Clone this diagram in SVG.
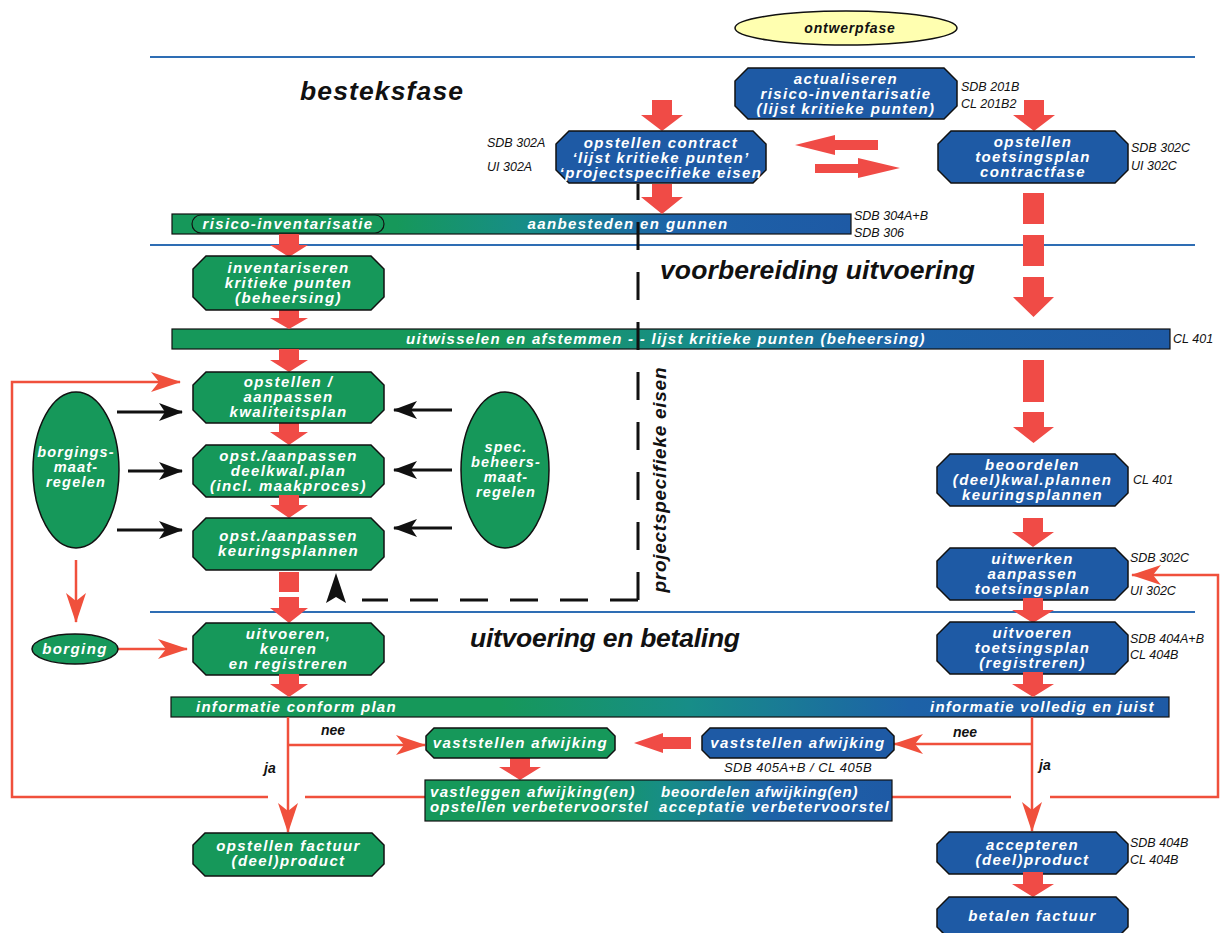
<svg xmlns="http://www.w3.org/2000/svg" width="1220" height="933" viewBox="0 0 1220 933">
<style>
.bg{fill:#ffffff}
.ph{stroke:#2e6db4;stroke-width:2;fill:none}
.gn{fill:#16985a;stroke:#111;stroke-width:1.5}
.bn{fill:#1e5aa5;stroke:#111;stroke-width:1.5}
.bar{fill:url(#gBar);stroke:#111;stroke-width:1.2}
.t{font-family:"Liberation Sans",Arial,sans-serif;font-size:15px;font-weight:bold;font-style:italic;fill:#fff;text-anchor:middle;letter-spacing:1.4px}
.te{font-size:14.5px;letter-spacing:1.2px}
.tl{text-anchor:start}
.lbl{font-family:"Liberation Sans",Arial,sans-serif;font-size:12.5px;font-style:italic;fill:#111}
.lbl2{font-size:13px;letter-spacing:0.5px;text-anchor:middle}
.ttl{font-family:"Liberation Sans",Arial,sans-serif;font-size:26.5px;font-weight:bold;font-style:italic;fill:#111}
.yn{font-family:"Liberation Sans",Arial,sans-serif;font-size:14px;font-weight:bold;font-style:italic;fill:#111}
.rot{font-size:19px;font-weight:900;text-anchor:middle}
.ba{fill:#f04b46}
.rl{stroke:#f0503c;stroke-width:2.5;fill:none}
.bl{stroke:#111;stroke-width:3;fill:none}
.dl{stroke:#111;stroke-width:3;fill:none;stroke-dasharray:28 22}
</style>
<defs>
<linearGradient id="gBar" x1="0" y1="0" x2="1" y2="0">
<stop offset="0" stop-color="#16985a"/>
<stop offset="0.33" stop-color="#16985a"/>
<stop offset="0.52" stop-color="#178d88"/>
<stop offset="0.74" stop-color="#1d62a8"/>
<stop offset="1" stop-color="#1e5aa5"/>
</linearGradient>
<marker id="rh" viewBox="0 0 30 20" markerWidth="30" markerHeight="20" refX="29" refY="10" orient="auto" markerUnits="userSpaceOnUse">
<path d="M0,0 L30,10 L0,20 L8,10 z" fill="#f0503c"/>
</marker>
<marker id="kh" viewBox="0 0 24 18" markerWidth="24" markerHeight="18" refX="23" refY="9" orient="auto" markerUnits="userSpaceOnUse">
<path d="M0,0 L24,9 L0,18 L6,9 z" fill="#111"/>
</marker>
</defs>
<rect class="bg" x="0" y="0" width="1220" height="933"/>

<g id="phases">
<line class="ph" x1="150" y1="57" x2="1195" y2="57"/>
<line class="ph" x1="150" y1="245" x2="1195" y2="245"/>
<line class="ph" x1="150" y1="612" x2="1195" y2="612"/>
<text class="ttl" x="300" y="100" textLength="163">besteksfase</text>
<text class="ttl" x="660" y="279" textLength="315">voorbereiding uitvoering</text>
<text class="ttl" x="470" y="647" textLength="270">uitvoering en betaling</text>
</g>

<g id="n-ontwerpfase">
<ellipse cx="846" cy="28" rx="111" ry="17" fill="#ffffb0" stroke="#111" stroke-width="1.5"/>
<text class="yn" x="850" y="33" text-anchor="middle" letter-spacing="0.8">ontwerpfase</text>
</g>

<g id="bars">
<rect class="bar" x="172" y="214" width="679" height="20"/>
<rect x="192" y="215" width="192" height="18" rx="9" fill="#16985a" stroke="#111" stroke-width="1.2"/>
<text class="t" x="288" y="229">risico-inventarisatie</text>
<text class="t" x="628" y="229">aanbesteden en gunnen</text>
<rect class="bar" x="172" y="329" width="998" height="20"/>
<text class="t" x="666" y="344" textLength="520">uitwisselen en afstemmen - - lijst kritieke punten (beheersing)</text>
<rect class="bar" x="171" y="697" width="998" height="20"/>
<text class="t tl" x="196" y="712" textLength="201">informatie conform plan</text>
<text class="t tl" x="930" y="712" textLength="225">informatie volledig en juist</text>
</g>

<g id="connectors">
<!-- dashed projectspecifieke eisen -->
<path class="dl" d="M638,600 V184"/>
<path class="dl" d="M638,600 H362"/>
<polygon points="336,573 346,603 336,597 326,603" fill="#111"/>
<text class="yn rot" x="0" y="0" transform="translate(666,480) rotate(-90)" textLength="225">projectspecifieke eisen</text>
<!-- block arrows top -->
<polygon class="ba" points="652,100 672,100 672,115 683,115 662,131 641,115 652,115"/>
<polygon class="ba" points="878,140 835,140 835,135 795,145 835,155 835,150 878,150"/>
<polygon class="ba" points="815,164 858,164 858,158 900,168 858,178 858,173 815,173"/>
<!-- right column -->
<rect class="ba" x="1023" y="193" width="21" height="31"/>
<rect class="ba" x="1023" y="235" width="21" height="31"/>
<polygon class="ba" points="1023,277 1044,277 1044,297 1054,297 1033.5,317 1013,297 1023,297"/>
<rect class="ba" x="1023" y="360" width="21" height="42"/>
<polygon class="ba" points="1023,412 1044,412 1044,427 1054,427 1033.5,443 1013,427 1023,427"/>
<polygon class="ba" points="1023,518 1043,518 1043,532 1054,532 1033,547 1012,532 1023,532"/>
<!-- left column -->
<polygon class="ba" points="279,234 299,234 299,245 308,245 289,257 270,245 279,245"/>
<polygon class="ba" points="279,308 299,308 299,318 308,318 289,329 270,318 279,318"/>
<polygon class="ba" points="279,349 299,349 299,360 308,360 289,372 270,360 279,360"/>
<polygon class="ba" points="279,422 299,422 299,432 308,432 289,445 270,432 279,432"/>
<rect class="ba" x="279" y="572" width="20" height="20"/>
<polygon class="ba" points="279,597 299,597 299,608 308,608 289,623 270,608 279,608"/>
<polygon class="ba" points="510,757 530,757 530,767 541,767 520,780 499,767 510,767"/>
<polygon class="ba" points="691,737 663,737 663,733 634,743 663,753 663,749 691,749"/>
<!-- thin red lines -->
<path class="rl" d="M425,797 H305"/>
<path class="rl" d="M268,797 H12 V382 H180" marker-end="url(#rh)"/>
<path class="rl" d="M892,797 H1011"/>
<path class="rl" d="M1050,797 H1218 V575 H1132" marker-end="url(#rh)"/>
<path class="rl" d="M76,560 V622" marker-end="url(#rh)"/>
<path class="rl" d="M117,649 H187" marker-end="url(#rh)"/>
<path class="rl" d="M288,717 V832" marker-end="url(#rh)"/>
<path class="rl" d="M288,745 H425" marker-end="url(#rh)"/>
<path class="rl" d="M1032,717 V831" marker-end="url(#rh)"/>
<path class="rl" d="M1032,744 H894" marker-end="url(#rh)"/>
<text class="yn" x="321" y="735">nee</text>
<text class="yn" x="264" y="773">ja</text>
<text class="yn" x="953" y="737">nee</text>
<text class="yn" x="1039" y="770">ja</text>
<!-- black arrows -->
<path class="bl" d="M117,412 H182" marker-end="url(#kh)"/>
<path class="bl" d="M128,471 H182" marker-end="url(#kh)"/>
<path class="bl" d="M117,530 H182" marker-end="url(#kh)"/>
<path class="bl" d="M452,410 H394" marker-end="url(#kh)"/>
<path class="bl" d="M452,470 H394" marker-end="url(#kh)"/>
<path class="bl" d="M452,528 H394" marker-end="url(#kh)"/>
</g>

<g id="n-actualiseren">
<polygon class="bn" points="748,68 944,68 957,81 957,106 944,119 748,119 735,106 735,81"/>
<text class="t" x="846" y="84">actualiseren</text>
<text class="t" x="846" y="99">risico-inventarisatie</text>
<text class="t" x="846" y="114">(lijst kritieke punten)</text>
<text class="lbl" x="961" y="91">SDB 201B</text>
<text class="lbl" x="961" y="108">CL 201B2</text>
</g>
<polygon class="ba" points="1024,100 1044,100 1044,115 1055,115 1034,131 1013,115 1024,115"/>

<g id="n-contract">
<polygon class="bn" points="569,131 753,131 766,144 766,170 753,183 569,183 556,170 556,144"/>
<text class="t" x="661" y="148">opstellen contract</text>
<text class="t" x="661" y="163">‘lijst kritieke punten’</text>
<text class="t" x="661" y="178">‘projectspecifieke eisen</text>
<text class="lbl" x="487" y="147">SDB 302A</text>
<text class="lbl" x="487" y="171">UI 302A</text>
</g>

<g id="n-toetsingsplan-contract">
<polygon class="bn" points="951,131 1115,131 1128,144 1128,170 1115,183 951,183 938,170 938,144"/>
<text class="t" x="1033" y="147">opstellen</text>
<text class="t" x="1033" y="162">toetsingsplan</text>
<text class="t" x="1033" y="177">contractfase</text>
<text class="lbl" x="1131" y="152">SDB 302C</text>
<text class="lbl" x="1131" y="170">UI 302C</text>
</g>

<g id="lbl-bars">
<text class="lbl" x="854" y="220">SDB 304A+B</text>
<text class="lbl" x="854" y="237">SDB 306</text>
<text class="lbl" x="1173" y="343">CL 401</text>
</g>

<g id="n-inventariseren">
<polygon class="gn" points="206,256 371,256 384,269 384,297 371,310 206,310 193,297 193,269"/>
<text class="t" x="288.5" y="273">inventariseren</text>
<text class="t" x="288.5" y="288">kritieke punten</text>
<text class="t" x="288.5" y="303">(beheersing)</text>
</g>

<g id="n-kwaliteitsplan">
<polygon class="gn" points="206,372 371,372 384,385 384,410 371,423 206,423 193,410 193,385"/>
<text class="t" x="288.5" y="387">opstellen /</text>
<text class="t" x="288.5" y="402">aanpassen</text>
<text class="t" x="288.5" y="417">kwaliteitsplan</text>
</g>

<g id="n-deelkwalplan">
<polygon class="gn" points="206,445 371,445 384,458 384,484 371,497 206,497 193,484 193,458"/>
<text class="t" x="288.5" y="461">opst./aanpassen</text>
<text class="t" x="288.5" y="476">deelkwal.plan</text>
<text class="t" x="288.5" y="491">(incl. maakproces)</text>
</g>
<polygon class="ba" points="279,495 299,495 299,505 308,505 289,518 270,505 279,505"/>

<g id="n-keuringsplannen">
<polygon class="gn" points="206,518 371,518 384,531 384,557 371,570 206,570 193,557 193,531"/>
<text class="t" x="288.5" y="541">opst./aanpassen</text>
<text class="t" x="288.5" y="556">keuringsplannen</text>
</g>

<g id="n-borgingsmaatregelen">
<ellipse class="gn" cx="76" cy="470" rx="43" ry="78"/>
<text class="t te" x="76" y="457">borgings-</text>
<text class="t te" x="76" y="472">maat-</text>
<text class="t te" x="76" y="487">regelen</text>
</g>

<g id="n-specbeheers">
<ellipse class="gn" cx="505" cy="470" rx="44" ry="78"/>
<text class="t te" x="506" y="452">spec.</text>
<text class="t te" x="506" y="467">beheers-</text>
<text class="t te" x="506" y="482">maat-</text>
<text class="t te" x="506" y="497">regelen</text>
</g>

<g id="n-borging">
<ellipse class="gn" cx="75" cy="649" rx="43" ry="15"/>
<text class="t" x="75" y="654">borging</text>
</g>

<g id="n-uitvoeren-keuren">
<polygon class="gn" points="206,623 371,623 384,636 384,662 371,675 206,675 193,662 193,636"/>
<text class="t" x="288.5" y="639">uitvoeren,</text>
<text class="t" x="288.5" y="654">keuren</text>
<text class="t" x="288.5" y="669">en registreren</text>
</g>
<polygon class="ba" points="279,674 299,674 299,684 308,684 289,697 270,684 279,684"/>

<g id="n-opstellen-factuur">
<polygon class="gn" points="205,833 372,833 384,845 384,864 372,876 205,876 193,864 193,845"/>
<text class="t" x="288.5" y="851">opstellen factuur</text>
<text class="t" x="288.5" y="866">(deel)product</text>
</g>

<g id="n-vaststellen-groen">
<polygon class="gn" points="434,728 607,728 615,736 615,750 607,758 434,758 426,750 426,736"/>
<text class="t" x="520.5" y="748">vaststellen afwijking</text>
</g>

<g id="n-vaststellen-blauw">
<polygon class="bn" points="710,728 886,728 894,736 894,750 886,758 710,758 702,750 702,736"/>
<text class="t" x="798" y="748">vaststellen afwijking</text>
<text class="lbl lbl2" x="798" y="772">SDB 405A+B / CL 405B</text>
</g>

<g id="n-vastleggen">
<rect class="bar" x="425" y="780" width="467" height="41"/>
<text class="t tl" x="430" y="797" textLength="206">vastleggen afwijking(en)</text>
<text class="t tl" x="430" y="812" textLength="219">opstellen verbetervoorstel</text>
<text class="t tl" x="661" y="797" textLength="198">beoordelen afwijking(en)</text>
<text class="t tl" x="659" y="812" textLength="231">acceptatie verbetervoorstel</text>
</g>

<g id="n-beoordelen">
<polygon class="bn" points="950,454 1115,454 1128,467 1128,493 1115,506 950,506 937,493 937,467"/>
<text class="t" x="1032.5" y="470">beoordelen</text>
<text class="t" x="1032.5" y="485">(deel)kwal.plannen</text>
<text class="t" x="1032.5" y="500">keuringsplannen</text>
<text class="lbl" x="1133" y="484">CL 401</text>
</g>

<g id="n-uitwerken">
<polygon class="bn" points="950,548 1115,548 1128,561 1128,587 1115,600 950,600 937,587 937,561"/>
<text class="t" x="1032.5" y="564">uitwerken</text>
<text class="t" x="1032.5" y="579">aanpassen</text>
<text class="t" x="1032.5" y="594">toetsingsplan</text>
<text class="lbl" x="1130" y="562">SDB 302C</text>
<text class="lbl" x="1130" y="595">UI 302C</text>
</g>
<polygon class="ba" points="1023,598 1043,598 1043,610 1054,610 1033,623 1012,610 1023,610"/>

<g id="n-uitvoeren-toetsingsplan">
<polygon class="bn" points="950,622 1115,622 1128,635 1128,661 1115,674 950,674 937,661 937,635"/>
<text class="t" x="1032.5" y="638">uitvoeren</text>
<text class="t" x="1032.5" y="653">toetsingsplan</text>
<text class="t" x="1032.5" y="668">(registreren)</text>
<text class="lbl" x="1130" y="643">SDB 404A+B</text>
<text class="lbl" x="1130" y="659">CL 404B</text>
</g>
<polygon class="ba" points="1023,672 1043,672 1043,684 1054,684 1033,697 1012,684 1023,684"/>

<g id="n-accepteren">
<polygon class="bn" points="949,832 1116,832 1128,844 1128,862 1116,874 949,874 937,862 937,844"/>
<text class="t" x="1032.5" y="850">accepteren</text>
<text class="t" x="1032.5" y="865">(deel)product</text>
<text class="lbl" x="1130" y="847">SDB 404B</text>
<text class="lbl" x="1130" y="864">CL 404B</text>
</g>
<polygon class="ba" points="1023,872 1043,872 1043,884 1054,884 1033,897 1012,884 1023,884"/>

<g id="n-betalen">
<polygon class="bn" points="949,897 1116,897 1128,909 1128,927 1116,939 949,939 937,927 937,909"/>
<text class="t" x="1032.5" y="921">betalen factuur</text>
</g>
<polygon class="ba" points="652,184 672,184 672,197 683,197 662,214 641,197 652,197"/>
</svg>
